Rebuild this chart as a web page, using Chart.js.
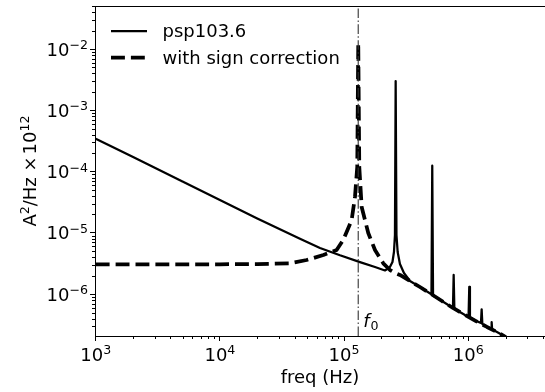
<!DOCTYPE html>
<html><head><meta charset="utf-8">
<script src="https://cdn.jsdelivr.net/npm/chart.js@4/dist/chart.umd.min.js"></script>
<style>html,body{margin:0;padding:0;background:#fff;} canvas{display:block;}</style>
</head><body>
<canvas id="c" width="545" height="392"></canvas>
<script>
// ---------- data ----------
const seriesLabels = ['psp103.6', 'with sign correction'];

const solidFreq = [1e3, 2e3, 5e3, 1e4, 2e4, 4.415e4, 6.397e4, 9.27e4, 1.343e5, 1.774e5, 2.135e5, 2.34e5,
  2.453e5, 2.522e5, 2.569e5, 2.603e5, 2.642e5, 2.701e5, 2.818e5, 3.036e5, 3.393e5, 4.085e5, 5.009e5,
  5.055e5, 5.13e5, 5.207e5, 6.141e5, 7.53e5, 7.63e5, 7.73e5, 9.407e5, 1.006e6, 1.019e6, 1.032e6,
  1.153e6, 1.266e6, 1.282e6, 1.299e6, 1.415e6, 1.529e6, 1.543e6, 1.557e6, 1.703e6, 1.975e6, 2.05e6];
const solidValues = [3.45e-4, 1.725e-4, 6.9e-5, 3.45e-5, 1.725e-5, 8.0e-6, 5.67e-6, 4.31e-6, 3.34e-6, 2.78e-6, 2.44e-6, 2.77e-6,
  3.35e-6, 4.88e-6, 9.25e-6, 3.0e-3, 9.25e-6, 4.88e-6, 3.11e-6, 2.22e-6, 1.64e-6, 1.31e-6, 1.01e-6,
  9.9e-7, 1.25e-4, 9.5e-7, 7.74e-7, 5.96e-7, 2.06e-6, 5.8e-7, 4.58e-7, 4.37e-7, 1.32e-6, 4.22e-7,
  3.65e-7, 3.4e-7, 5.68e-7, 3.27e-7, 2.92e-7, 2.72e-7, 3.5e-7, 2.68e-7, 2.42e-7, 2.04e-7, 1.87e-7];

const dashedFreq = [1e3, 3e3, 1e4, 2e4, 3.67e4, 5.0e4, 6.81e4, 8.71e4, 9.85e4, 1.151e5, 1.224e5, 1.277e5, 1.301e5,
  1.326e5, 1.386e5, 1.566e5, 1.774e5, 2.069e5, 2.342e5, 2.57e5, 2.818e5, 3.393e5, 4.085e5, 5.009e5, 6.141e5,
  7.53e5, 9.407e5, 1.153e6, 1.415e6, 1.703e6, 1.975e6, 2.05e6];
const dashedValues = [3.08e-6, 3.08e-6, 3.08e-6, 3.1e-6, 3.19e-6, 3.61e-6, 4.36e-6, 5.26e-6, 7.66e-6, 1.62e-5, 3.85e-5, 1.19e-4, 1.25e-2,
  1.19e-4, 2.65e-5, 9.95e-6, 5.26e-6, 3.19e-6, 2.48e-6, 2.22e-6, 2.06e-6, 1.64e-6, 1.31e-6, 1.01e-6, 7.74e-7,
  5.96e-7, 4.58e-7, 3.65e-7, 2.92e-7, 2.42e-7, 2.04e-7, 1.87e-7];

const f0 = 1.30e5;
const xRange = [987, 4.15e6];
const yRange = [2.08e-7, 5.03e-2];
const xTickPowers = [3, 4, 5, 6];
const yTickPowers = [-6, -5, -4, -3, -2];
const xTitle = 'freq (Hz)';
const yTitleParts = ['A', '2', '/Hz ', '\u00d7', '10', '12'];
const f0LabelParts = ['f', '0'];

// ---------- helpers ----------
const FAM = '"DejaVu Sans"';
const toXY = (fs, vs) => fs.map((f, i) => ({x: f, y: vs[i]}));
function setFont(ctx, p) { ctx.font = (p.italic ? 'italic ' : '') + p.size + 'px ' + FAM; }
function drawMath(ctx, parts, x, y, align) {
  const widths = parts.map(p => { setFont(ctx, p); return ctx.measureText(p.t).width + (p.gap || 0); });
  const total = widths.reduce((a, b) => a + b, 0);
  let cx = align === 'center' ? x - total / 2 : align === 'right' ? x - total : x;
  parts.forEach((p, i) => { setFont(ctx, p); ctx.fillText(p.t, cx, y + (p.dy || 0)); cx += widths[i]; });
}
const expStr = p => (p < 0 ? '\u2212' + (-p) : String(p));

const decor = {
  id: 'decor',
  afterDraw(chart) {
    const ctx = chart.ctx, ca = chart.chartArea;
    const xs = chart.scales.x, ys = chart.scales.y;
    ctx.save();
    ctx.fillStyle = '#000'; ctx.strokeStyle = '#000';
    // top spine
    ctx.lineWidth = 1;
    ctx.beginPath(); ctx.moveTo(ca.left, Math.round(ca.top) + 0.5); ctx.lineTo(ca.right, Math.round(ca.top) + 0.5); ctx.stroke();
    // minor ticks
    ctx.beginPath();
    for (let k = 2; k <= 7; k++) for (let m = 2; m <= 9; m++) {
      const v = m * Math.pow(10, k);
      if (v < xs.min || v > xs.max) continue;
      const px = Math.round(xs.getPixelForValue(v)) + 0.5;
      ctx.moveTo(px, ca.bottom); ctx.lineTo(px, ca.bottom + 3);
    }
    for (let k = -8; k <= -1; k++) for (let m = 2; m <= 9; m++) {
      const v = m * Math.pow(10, k);
      if (v < ys.min || v > ys.max) continue;
      const py = Math.round(ys.getPixelForValue(v)) + 0.5;
      ctx.moveTo(ca.left - 3, py); ctx.lineTo(ca.left, py);
    }
    ctx.stroke();
    // x tick labels
    ctx.textBaseline = 'alphabetic';
    xTickPowers.forEach(p => {
      const px = xs.getPixelForValue(Math.pow(10, p));
      drawMath(ctx, [{t: '10', size: 18}, {t: expStr(p), size: 12.6, dy: -6.5}], px, ca.bottom + 24.5, 'center');
    });
    // y tick labels
    yTickPowers.forEach(p => {
      const py = ys.getPixelForValue(Math.pow(10, p));
      drawMath(ctx, [{t: '10', size: 18}, {t: expStr(p), size: 12.6, dy: -6.5}], ca.left - 7, py + 6.5, 'right');
    });
    // x title
    drawMath(ctx, [{t: xTitle, size: 18}], (ca.left + ca.right) / 2, 383, 'center');
    // y title
    ctx.save();
    ctx.translate(35.5, (ca.top + ca.bottom) / 2);
    ctx.rotate(-Math.PI / 2);
    drawMath(ctx, [
      {t: yTitleParts[0], size: 18}, {t: yTitleParts[1], size: 12.6, dy: -7},
      {t: yTitleParts[2], size: 18}, {t: yTitleParts[3], size: 18, gap: 2},
      {t: yTitleParts[4], size: 18}, {t: yTitleParts[5], size: 12.6, dy: -7}], 0, 0, 'center');
    ctx.restore();
    // f0 label
    const fx = xs.getPixelForValue(f0);
    drawMath(ctx, [{t: f0LabelParts[0], size: 18, italic: true, gap: 1}, {t: f0LabelParts[1], size: 12.6, dy: 2.5}], fx + 5, 327, 'left');
    // legend
    const rows = [
      {label: chart.data.datasets[1].label, ds: chart.data.datasets[1], y: 31},
      {label: chart.data.datasets[0].label, ds: chart.data.datasets[0], y: 57.5}
    ];
    rows.forEach(r => {
      ctx.save();
      ctx.lineWidth = r.ds.borderWidth;
      ctx.setLineDash(r.ds.borderDash || []);
      ctx.lineCap = 'butt';
      ctx.beginPath(); ctx.moveTo(111, r.y); ctx.lineTo(147, r.y); ctx.stroke();
      ctx.restore();
      drawMath(ctx, [{t: r.label, size: 18}], 162.5, r.y + 6.3, 'left');
    });
    ctx.restore();
  }
};

new Chart(document.getElementById('c').getContext('2d'), {
  type: 'line',
  data: {
    datasets: [
      {label: seriesLabels[1], data: toXY(dashedFreq, dashedValues), borderColor: '#000', borderWidth: 3.75,
       borderDash: [13.9, 6], borderCapStyle: 'butt', borderJoinStyle: 'round', pointRadius: 0, tension: 0, fill: false, clip: 0, order: 1},
      {label: seriesLabels[0], data: toXY(solidFreq, solidValues), borderColor: '#000', borderWidth: 2.25,
       borderCapStyle: 'butt', borderJoinStyle: 'round', pointRadius: 0, tension: 0, fill: false, clip: 0, order: 2},
      {label: 'f0', data: [{x: f0, y: yRange[0]}, {x: f0, y: yRange[1]}], borderColor: '#333', borderWidth: 1.1,
       borderDash: [9.6, 2.4, 1.5, 2.4], pointRadius: 0, fill: false, clip: 0, order: 0}
    ]
  },
  options: {
    responsive: false, animation: false, devicePixelRatio: 1,
    layout: {padding: {left: 90, top: 6, right: 0, bottom: 51}},
    plugins: {legend: {display: false}, tooltip: {enabled: false}},
    scales: {
      x: {type: 'logarithmic', min: xRange[0], max: xRange[1],
          afterBuildTicks: s => { s.ticks = xTickPowers.map(p => ({value: Math.pow(10, p)})); },
          ticks: {display: false},
          grid: {display: true, drawOnChartArea: false, drawTicks: true, tickLength: 5, tickWidth: 1, tickColor: '#000'},
          border: {display: true, color: '#000', width: 1}},
      y: {type: 'logarithmic', min: yRange[0], max: yRange[1],
          afterBuildTicks: s => { s.ticks = yTickPowers.map(p => ({value: Math.pow(10, p)})); },
          ticks: {display: false},
          grid: {display: true, drawOnChartArea: false, drawTicks: true, tickLength: 5, tickWidth: 1, tickColor: '#000'},
          border: {display: true, color: '#000', width: 1}}
    }
  },
  plugins: [decor]
});
</script>
</body></html>
